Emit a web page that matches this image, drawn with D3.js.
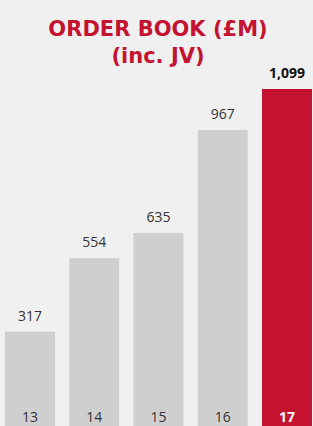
<!DOCTYPE html>
<html><head><meta charset="utf-8">
<script src="https://cdn.jsdelivr.net/npm/d3@7"></script>
<style>
html,body{margin:0;padding:0;background:#f0f0f0;}
svg{display:block;}
</style></head>
<body>
<svg id="chart" width="313" height="426"></svg>
<script>
const categories = ["13","14","15","16","17"];
const values = [317, 554, 635, 967, 1099];
const valueLabels = ["317","554","635","967","1,099"];
const titleLines = ["ORDER BOOK (£M)", "(inc. JV)"];

const W = 313, H = 426;
const svg = d3.select("#chart");
svg.append("rect").attr("width", W).attr("height", H).attr("fill", "#f0f0f0");

const x = d3.scaleBand().domain(categories).range([5, 312]).paddingInner(0.2218).paddingOuter(0);
const y = d3.scaleLinear().domain([0, 1099]).range([430, 89]);

const red = "#c41230", gray = "#cfcfcf";
const font = "'Open Sans', sans-serif";

svg.selectAll("rect.bar").data(values).join("rect")
  .attr("class", "bar")
  .attr("x", (d, i) => x(categories[i]))
  .attr("width", x.bandwidth())
  .attr("y", d => y(d))
  .attr("height", d => Math.min(y(0), H) - y(d))
  .attr("fill", (d, i) => i === values.length - 1 ? red : gray);

svg.selectAll("text.val").data(values).join("text")
  .attr("class", "val")
  .attr("x", (d, i) => x(categories[i]) + x.bandwidth() / 2)
  .attr("y", d => y(d) - 11)
  .attr("text-anchor", "middle")
  .attr("font-family", font)
  .attr("font-size", 14)
  .attr("font-weight", (d, i) => i === values.length - 1 ? 700 : 400)
  .attr("fill", (d, i) => i === values.length - 1 ? "#111" : "#333")
  .text((d, i) => valueLabels[i]);

svg.selectAll("text.cat").data(categories).join("text")
  .attr("class", "cat")
  .attr("x", d => x(d) + x.bandwidth() / 2)
  .attr("y", 422)
  .attr("text-anchor", "middle")
  .attr("font-family", font)
  .attr("font-size", 14)
  .attr("font-weight", (d, i) => i === categories.length - 1 ? 700 : 400)
  .attr("fill", (d, i) => i === categories.length - 1 ? "#fff" : "#333")
  .text(d => d);

svg.selectAll("text.title").data(titleLines).join("text")
  .attr("class", "title")
  .attr("x", 158)
  .attr("y", (d, i) => 36 + i * 27)
  .attr("text-anchor", "middle")
  .attr("font-family", "'DejaVu Sans', sans-serif")
  .attr("font-size", 21)
  .attr("font-weight", 700)
  .attr("fill", red)
  .text(d => d);
</script>
</body></html>
